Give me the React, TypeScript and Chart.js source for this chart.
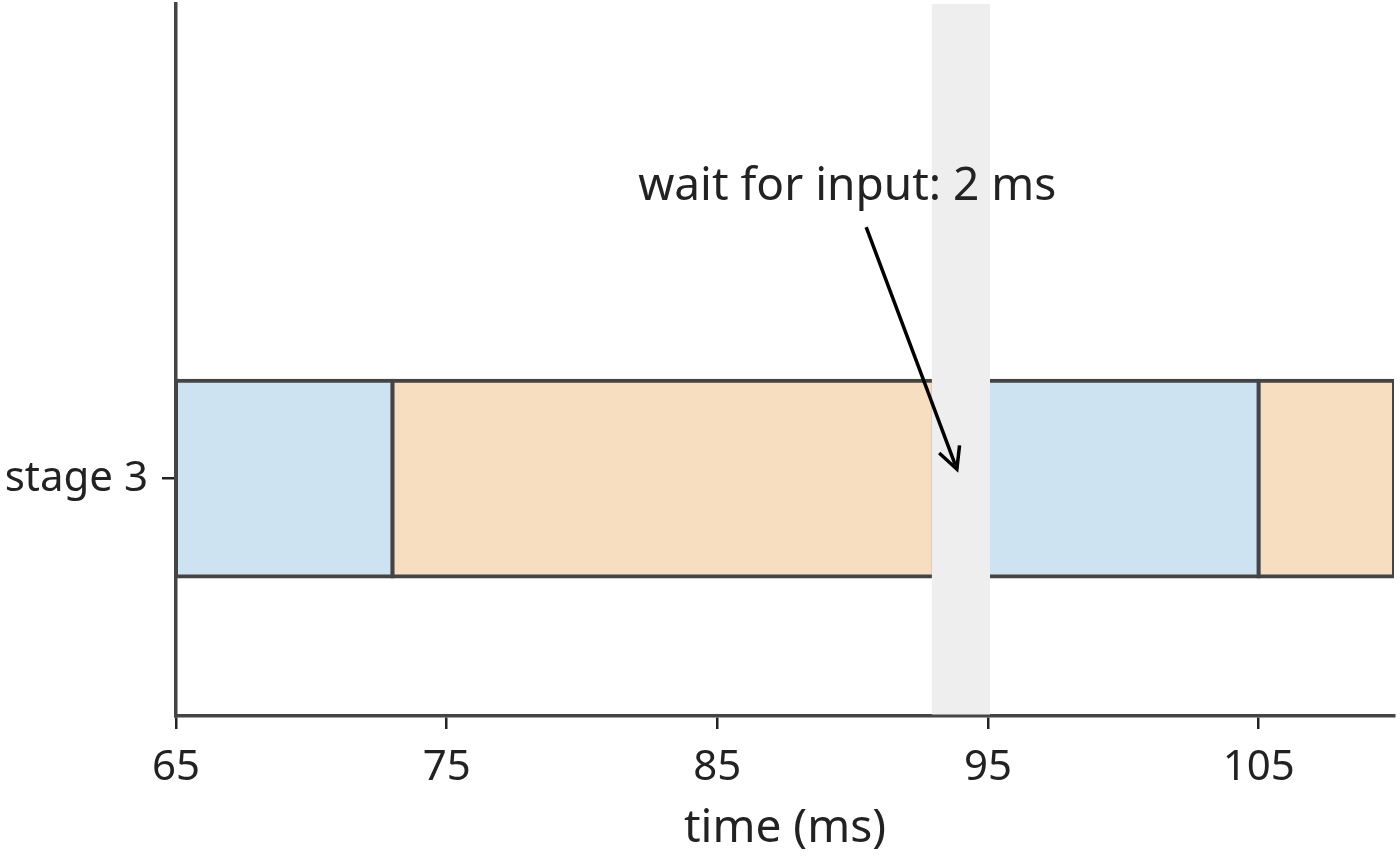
import React, { useEffect, useRef } from "react";
import { Chart, registerables } from "chart.js";

Chart.register(...registerables);

// ---- data ----
const stageLabels = ["stage 3"];
const stageValues = [0];
const segmentStarts = [65, 73, 95, 105];
const segmentEnds = [73, 93, 105, 110];
const segmentKinds = ["compute", "transfer", "compute", "transfer"];
const waitStart = 93;
const waitEnd = 95;
const annotationText = "wait for input: 2 ms";
const annotationTextPos = [89.8, 1.23];
const annotationArrowFrom = [90.5, 1.06];
const annotationArrowTo = [93.85, 0.04];
const xTickValues = [65, 75, 85, 95, 105];
const xTickLabels = ["65", "75", "85", "95", "105"];
const xMin = 65;
const xMax = 110;
const yMin = -1;
const yMax = 2;

const kindColors: Record<string, string> = {
  compute: "#cde3f2",
  transfer: "#f8dec1",
};

const FONT = "'Noto Sans', sans-serif";
const TEXT = "#222222";
const BAND_EDGE = 2;

const overlayPlugin = {
  id: "overlay",
  afterDatasetsDraw(chart: any) {
    const { ctx, chartArea, scales } = chart;
    const xs = scales.x;
    const x0 = xs.getPixelForValue(waitStart) - BAND_EDGE;
    const x1 = xs.getPixelForValue(waitEnd) + BAND_EDGE;
    ctx.save();
    ctx.fillStyle = "#eeeeee";
    ctx.fillRect(x0, chartArea.top, x1 - x0, chartArea.bottom - chartArea.top - 1.5);
    ctx.restore();
  },
  afterDraw(chart: any) {
    const { ctx, scales } = chart;
    const xs = scales.x;
    const ys = scales.y;
    ctx.save();
    ctx.font = `46px ${FONT}`;
    ctx.fillStyle = TEXT;
    ctx.textAlign = "center";
    ctx.textBaseline = "middle";
    ctx.fillText(
      annotationText,
      xs.getPixelForValue(annotationTextPos[0]),
      ys.getPixelForValue(annotationTextPos[1])
    );
    const ax0 = xs.getPixelForValue(annotationArrowFrom[0]);
    const ay0 = ys.getPixelForValue(annotationArrowFrom[1]);
    const ax1 = xs.getPixelForValue(annotationArrowTo[0]);
    const ay1 = ys.getPixelForValue(annotationArrowTo[1]);
    ctx.strokeStyle = "#000000";
    ctx.lineWidth = 3.5;
    ctx.lineCap = "butt";
    ctx.beginPath();
    ctx.moveTo(ax0, ay0);
    ctx.lineTo(ax1, ay1);
    ctx.stroke();
    const ang = Math.atan2(ay1 - ay0, ax1 - ax0);
    const headLen = 24;
    const headAng = 0.47;
    ctx.beginPath();
    ctx.moveTo(ax1 - headLen * Math.cos(ang - headAng), ay1 - headLen * Math.sin(ang - headAng));
    ctx.lineTo(ax1, ay1);
    ctx.lineTo(ax1 - headLen * Math.cos(ang + headAng), ay1 - headLen * Math.sin(ang + headAng));
    ctx.lineJoin = "miter";
    ctx.stroke();
    ctx.restore();
  },
};

export default function App() {
  const canvasRef = useRef<HTMLCanvasElement | null>(null);

  useEffect(() => {
    document.body.style.margin = "0";
    const canvas = canvasRef.current;
    if (!canvas) return;
    const data = segmentStarts.map((s, i) => ({ x: [s, segmentEnds[i]], y: stageValues[0] }));
    const chart = new Chart(canvas, {
      type: "bar",
      data: {
        datasets: [
          {
            data: data as any,
            backgroundColor: segmentKinds.map((k) => kindColors[k]),
            borderColor: "#444444",
            borderWidth: 4,
            borderSkipped: false,
            inflateAmount: 2,
            barPercentage: 0.275,
            categoryPercentage: 1,
          } as any,
        ],
      },
      options: {
        animation: false,
        responsive: true,
        maintainAspectRatio: false,
        indexAxis: "y",
        layout: { padding: { top: 4, right: 6, left: 0, bottom: 0 } },
        plugins: {
          legend: { display: false },
          tooltip: { enabled: false },
        },
        scales: {
          x: {
            type: "linear",
            min: xMin,
            max: xMax,
            offset: false,
            afterBuildTicks: (scale: any) => {
              scale.ticks = xTickValues.map((v) => ({ value: v }));
            },
            afterFit: (scale: any) => {
              scale.height = 145;
              scale.paddingLeft = 0;
              scale.paddingRight = 0;
            },
            ticks: {
              autoSkip: false,
              maxRotation: 0,
              color: TEXT,
              font: { family: FONT, size: 42 },
              padding: 14,
              callback: (v: any) => {
                const i = xTickValues.indexOf(Number(v));
                return i >= 0 ? xTickLabels[i] : "";
              },
            },
            grid: {
              display: true,
              offset: false,
              drawOnChartArea: false,
              drawTicks: true,
              tickLength: 13,
              color: TEXT,
              lineWidth: 2.5,
            },
            border: { display: true, color: "#444444", width: 3.5 },
            title: {
              display: true,
              text: "time (ms)",
              color: TEXT,
              font: { family: FONT, size: 46 },
              padding: { top: 0, bottom: 5 },
            },
          },
          y: {
            type: "linear",
            min: yMin,
            max: yMax,
            offset: false,
            afterBuildTicks: (scale: any) => {
              scale.ticks = stageValues.map((v) => ({ value: v }));
            },
            afterFit: (scale: any) => {
              scale.width = 176;
              scale.paddingTop = 0;
              scale.paddingBottom = 0;
            },
            ticks: {
              autoSkip: false,
              color: TEXT,
              font: { family: FONT, size: 42 },
              padding: 14,
              callback: (v: any) => {
                const i = stageValues.indexOf(Number(v));
                return i >= 0 ? stageLabels[i] : "";
              },
            },
            grid: {
              display: true,
              offset: false,
              drawOnChartArea: false,
              drawTicks: true,
              tickLength: 14,
              color: TEXT,
              lineWidth: 2.5,
            },
            border: { display: true, color: "#444444", width: 3.5 },
          },
        },
      },
      plugins: [overlayPlugin],
    });
    return () => chart.destroy();
  }, []);

  return (
    <div style={{ position: "absolute", left: 0, top: 0, width: 1400, height: 861 }}>
      <canvas ref={canvasRef} />
    </div>
  );
}
